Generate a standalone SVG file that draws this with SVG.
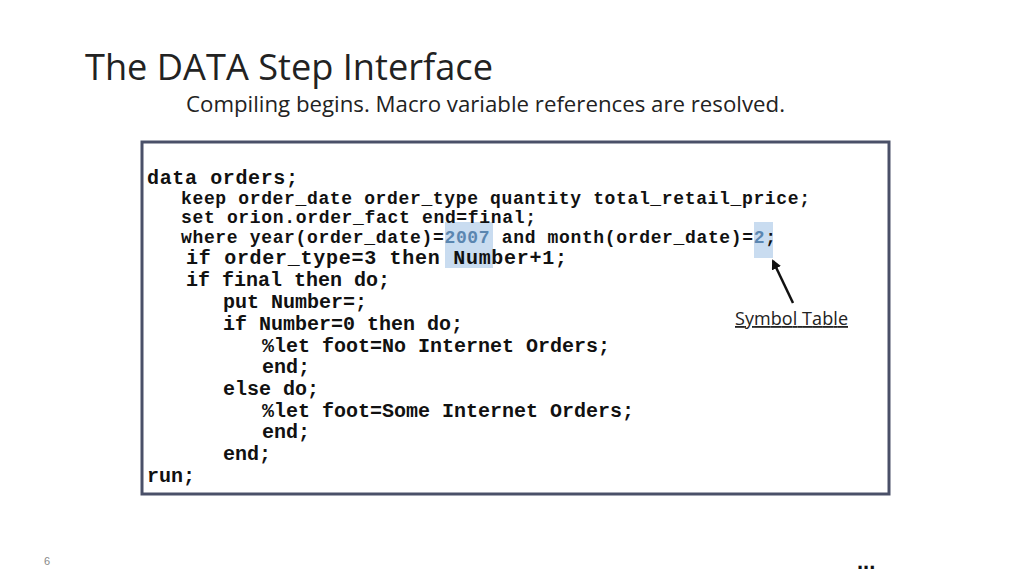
<svg xmlns="http://www.w3.org/2000/svg" width="1024" height="576" viewBox="0 0 1024 576">
<style>
.c{font-family:"Liberation Mono",monospace;font-weight:bold;fill:#111}
.s{font-family:"Open Sans","Liberation Sans",sans-serif;fill:#222}
.h{fill:#5b86b0}
</style>
<defs><marker id="ah" markerWidth="10" markerHeight="10" refX="8" refY="5" orient="auto" markerUnits="userSpaceOnUse"><path d="M0,0 L10,5 L0,10 z" fill="#111"/></marker></defs>
<rect width="1024" height="576" fill="#fff"/>
<text class="s" x="85" y="80" font-size="36" textLength="408" lengthAdjust="spacingAndGlyphs">The DATA Step Interface</text>
<text class="s" x="186" y="112" font-size="21" textLength="599" lengthAdjust="spacingAndGlyphs">Compiling begins. Macro variable references are resolved.</text>
<g id="code">
<rect x="142" y="142" width="747" height="352" fill="#fff" stroke="#4a5068" stroke-width="3"/>
<rect x="445" y="222" width="48" height="46" fill="#c9dcf0"/>
<rect x="754" y="222" width="19" height="36" fill="#c9dcf0"/>
<text class="c" x="147" y="184" font-size="20" textLength="151">data orders;</text>
<text class="c" x="181" y="204" font-size="18" textLength="629">keep order_date order_type quantity total_retail_price;</text>
<text class="c" x="181" y="223" font-size="18" textLength="355">set orion.order_fact end=final;</text>
<text class="c" x="181" y="243" font-size="18" textLength="595">where year(order_date)=<tspan class="h">2007</tspan> and month(order_date)=<tspan class="h">2</tspan>;</text>
<text class="c" x="186" y="264" font-size="20" textLength="381">if order_type=3 then Number+1;</text>
<text class="c" x="186" y="286" font-size="20">if final then do;</text>
<text class="c" x="223" y="308" font-size="20">put Number=;</text>
<text class="c" x="223" y="330" font-size="20">if Number=0 then do;</text>
<text class="c" x="262" y="352" font-size="20">%let foot=No Internet Orders;</text>
<text class="c" x="262" y="373" font-size="20">end;</text>
<text class="c" x="223" y="395" font-size="20">else do;</text>
<text class="c" x="262" y="417" font-size="20">%let foot=Some Internet Orders;</text>
<text class="c" x="262" y="438" font-size="20">end;</text>
<text class="c" x="223" y="460" font-size="20">end;</text>
<text class="c" x="147" y="482" font-size="20">run;</text>
</g>
<g id="symbol-table">
<text class="s" x="735" y="325" font-size="18" textLength="113" text-decoration="underline">Symbol Table</text>
</g>
<g id="connectors">
<line x1="793" y1="303" x2="773" y2="261" stroke="#111" stroke-width="2.5" marker-end="url(#ah)"/>
</g>
<text x="44" y="565" font-family="Liberation Sans,sans-serif" font-size="11" fill="#888">6</text>
<text x="857" y="569" font-family="Liberation Sans,sans-serif" font-size="22" font-weight="bold" fill="#111">...</text>
</svg>
